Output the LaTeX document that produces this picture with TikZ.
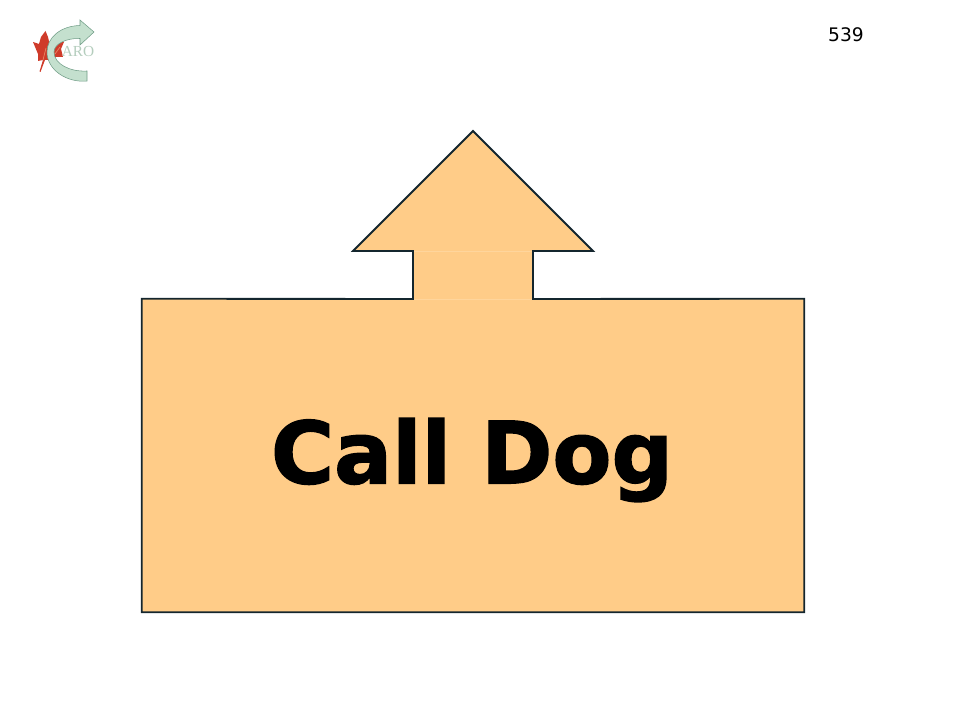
\documentclass[tikz,border=0pt]{standalone}
\usepackage{fontspec}
\setmainfont{DejaVu Sans}
\newfontfamily\logofont{Liberation Serif}
\newfontfamily\callfont[FakeBold=1.6]{DejaVu Sans Bold}
\definecolor{bodyfill}{HTML}{FFCC88}
\definecolor{seamline}{HTML}{FFD59C}
\definecolor{outline}{HTML}{14262E}
\definecolor{logogreen}{HTML}{C4E0CE}
\definecolor{logoedge}{HTML}{6F9C86}
\definecolor{brandgreen}{HTML}{B4CDBD}
\definecolor{leafred}{HTML}{CF3B2A}
\definecolor{leaflight}{HTML}{E88A66}

\begin{document}
\begin{tikzpicture}[x=0.75pt,y=-0.75pt,
  outlined/.style={draw=outline,line width=1.4pt,line join=miter},
  bodybox/.style={fill=bodyfill,draw=none,inner sep=0pt,minimum width=496.5pt,
    minimum height=234.75pt},
  calltext/.style={inner sep=0pt,font=\callfont\fontsize{64.5}{64.5}\selectfont}]
  \useasboundingbox (0,0) rectangle (960,720);

  % body and arrow
  \node[bodybox] (body) at (473,455.5) {};
  \node[calltext] (call) at (472,460) {Call Dog};
  \coordinate (stemL) at (413,299);
  \coordinate (stemR) at (533,299);
  \coordinate (neckL) at (413,251);
  \coordinate (neckR) at (533,251);
  \coordinate (barbL) at (353,251);
  \coordinate (barbR) at (593,251);
  \coordinate (tip)   at (473,131);

  \fill[bodyfill] (stemL) -- (neckL) -- (barbL) -- (tip) -- (barbR) -- (neckR) -- (stemR) -- cycle;
  \draw[seamline,line width=0.4pt] (neckL) -- (neckR) (stemL) -- (stemR);
  \draw[outlined] (stemL) -- (neckL) -- (barbL) -- (tip) -- (barbR) -- (neckR) -- (stemR)
    -- (body.north east) -- (body.south east) -- (body.south west) -- (body.north west) -- cycle;

  % logo
  \fill[leafred] (45.5,31) -- (48,37) -- (50,46) -- (54,42) -- (64,42) -- (61,49) -- (63,57)
    -- (55,57) -- (49,60) -- (45,60) -- (40.5,72) -- (39.5,71.5) -- (43,60) -- (38,61) -- (38,54)
    -- (33,42) -- (39,44) -- (41,37) -- cycle;
  \draw[leaflight,line width=0.5pt] (43,60) -- (46,48) (55,54) -- (60,47);
  \draw[logoedge,fill=logogreen,line width=0.4pt] (94,32) -- (80,20) -- (80,25.5)
    .. controls (60,26) and (47,38) .. (47,52)
    .. controls (47,70) and (67,83) .. (87,81) -- (87,71)
    .. controls (70,72) and (54,64) .. (54,52)
    .. controls (54,44) and (66,38) .. (80,38.5) -- (80,45) -- cycle;
  \node[text=brandgreen,font=\logofont\fontsize{11.5}{11.5}\selectfont,inner sep=0pt] (brand) at (78,52) {ARO};

  \node[font=\fontsize{14}{14}\selectfont,inner sep=0pt] (pagenum) at (846,35) {539};
\end{tikzpicture}
\end{document}
